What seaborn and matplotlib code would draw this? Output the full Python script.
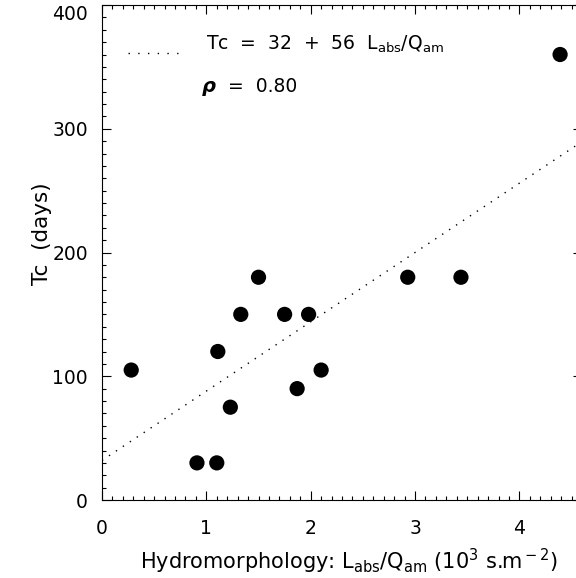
import numpy as np
import pandas as pd
import seaborn as sns
import matplotlib.pyplot as plt
from matplotlib.ticker import MultipleLocator

# values
hydro = [0.28, 0.91, 1.10, 1.11, 1.23, 1.33, 1.50, 1.75, 1.87, 1.98, 2.10, 2.93, 3.44, 4.39]
tc_days = [105, 30, 30, 120, 75, 150, 180, 150, 90, 150, 105, 180, 180, 360]

# regression: Tc = 32 + 56 L/Q
fit_a = 32
fit_b = 56
fit_x = [0.0, 4.6]
fit_y = [fit_a + fit_b * v for v in fit_x]

df = pd.DataFrame({'x': hydro, 'y': tc_days})
df_fit = pd.DataFrame({'x': fit_x, 'y': fit_y})

sns.set_style('ticks')
plt.rcParams['font.family'] = ['DejaVu Sans']
plt.rcParams['mathtext.fontset'] = 'dejavusans'
plt.rcParams['font.size'] = 13.5
for k in ['text.color', 'axes.labelcolor', 'xtick.color', 'ytick.color', 'axes.edgecolor']:
    plt.rcParams[k] = 'black'

fig = plt.figure(figsize=(5.76, 5.78), dpi=100)
ax = fig.add_axes([102 / 576, 1 - 500 / 578, 480 / 576, 495 / 578])

sns.lineplot(data=df_fit, x='x', y='y', color='black', linewidth=1,
             linestyle=(0, (1, 5)), ax=ax)
sns.scatterplot(data=df, x='x', y='y', color='black', s=120,
                edgecolor='none', ax=ax, zorder=3)

ax.set_xlim(0, 4.6)
ax.set_ylim(0, 400)
ax.xaxis.set_major_locator(MultipleLocator(1))
ax.xaxis.set_minor_locator(MultipleLocator(0.1))
ax.yaxis.set_major_locator(MultipleLocator(100))
ax.yaxis.set_minor_locator(MultipleLocator(10))
ax.tick_params(which='both', direction='in', top=True, right=True,
               width=0.8, color='black')
ax.tick_params(which='major', length=6.5)
ax.tick_params(which='minor', length=3.2)
ax.tick_params(axis='y', which='major', pad=10, labelsize=13.5)
ax.tick_params(axis='x', which='major', pad=14, labelsize=13.5)
for s in ax.spines.values():
    s.set_linewidth(0.8)

ax.set_xlabel(r'Hydromorphology: L$_{\rm abs}$/Q$_{\rm am}$ (10$^{\rm 3}$ s.m$^{\rm -2}$)',
              fontsize=15)
ax.xaxis.set_label_coords(0.515, -0.094)
ax.set_ylabel('Tc  (days)', fontsize=15.5)
ax.yaxis.set_label_coords(-0.104, 0.539)

# legend-like annotation
ax.plot([0.054, 0.169], [0.903, 0.903], color='black', linewidth=1,
        linestyle=(0, (1, 6)), transform=ax.transAxes)
ax.text(0.217, 0.909, r'Tc  =  32  +  56  L$_{\rm abs}$/Q$_{\rm am}$',
        transform=ax.transAxes, va='baseline', ha='left', fontsize=13.5)
ax.text(0.208, 0.824, 'ρ', transform=ax.transAxes, va='baseline', ha='left',
        fontsize=14, fontweight='bold', fontstyle='italic')
ax.text(0.262, 0.824, '=  0.80', transform=ax.transAxes, va='baseline',
        ha='left', fontsize=13.5)

fig.canvas.draw()
for t in ax.yaxis.get_major_ticks():
    if abs(t.get_loc() - 400) < 1e-6:
        t.label1.set_va('top')

fig.savefig('out.png', dpi=100)
